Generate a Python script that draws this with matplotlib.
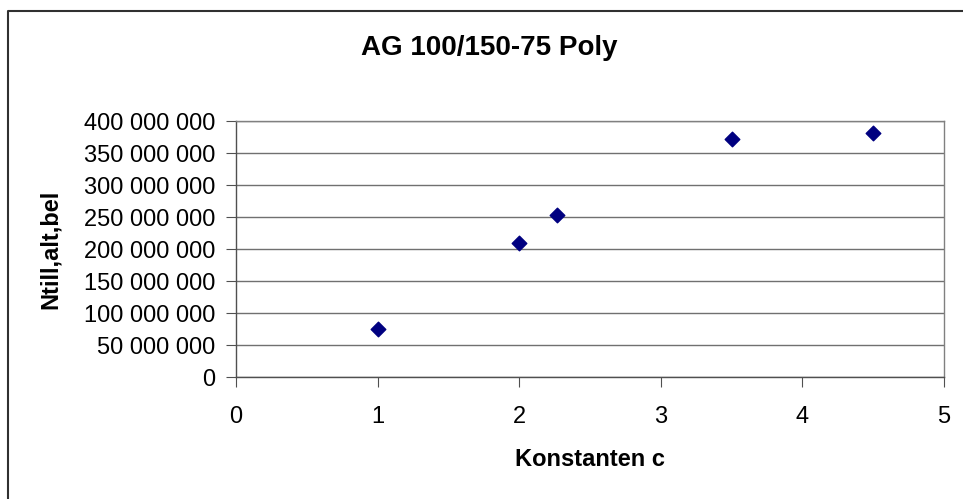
import matplotlib.pyplot as plt
from matplotlib.lines import Line2D
from matplotlib.ticker import FuncFormatter

# données
konstanten_c = [1.0, 2.0, 2.27, 3.5, 4.5]
ntill = [75e6, 209e6, 253e6, 372e6, 381e6]

titre = "AG 100/150-75 Poly"
label_x = "Konstanten c"
label_y = "Ntill,alt,bel"

plt.rcParams['font.family'] = ['Liberation Sans', 'DejaVu Sans']

fig = plt.figure(figsize=(9.63, 4.99), dpi=100)
ax = fig.add_axes([236 / 963, 1 - 377 / 499, (944 - 236) / 963, (377 - 121) / 499])

# cadre extérieur (seulement haut et gauche visibles, le reste est rogné)
fig.lines.append(Line2D([7.5 / 963, 7.5 / 963, 1.0], [0.0, 1 - 11 / 499, 1 - 11 / 499],
                        transform=fig.transFigure, color='#303030', linewidth=1.5))

ax.scatter(konstanten_c, ntill, marker='D', s=55, color='#000080', zorder=3)

ax.set_xlim(0, 5)
ax.set_ylim(0, 400e6)
ax.set_xticks(range(0, 6))
ax.set_yticks([i * 50e6 for i in range(9)])
ax.yaxis.set_major_formatter(FuncFormatter(lambda v, p: f"{int(v):,}".replace(",", " ")))

ax.grid(axis='y', color='#707070', linewidth=1)
ax.set_axisbelow(True)
for s in ax.spines.values():
    s.set_color('#808080')
    s.set_linewidth(1)
ax.spines['left'].set_color('#505050')
ax.spines['bottom'].set_color('#505050')
ax.tick_params(direction='out', length=7, color='#505050', labelsize=17)
ax.tick_params(axis='x', pad=14)
ax.tick_params(axis='y', pad=8)

fig.text(489 / 963, 1 - 48 / 499, titre, fontsize=20, fontweight='bold', ha='center', va='center')
ax.set_xlabel(label_x, fontsize=17, fontweight='bold', labelpad=14)
ax.set_ylabel(label_y, fontsize=17, fontweight='bold', labelpad=16)

fig.savefig('out.png', dpi=100)
